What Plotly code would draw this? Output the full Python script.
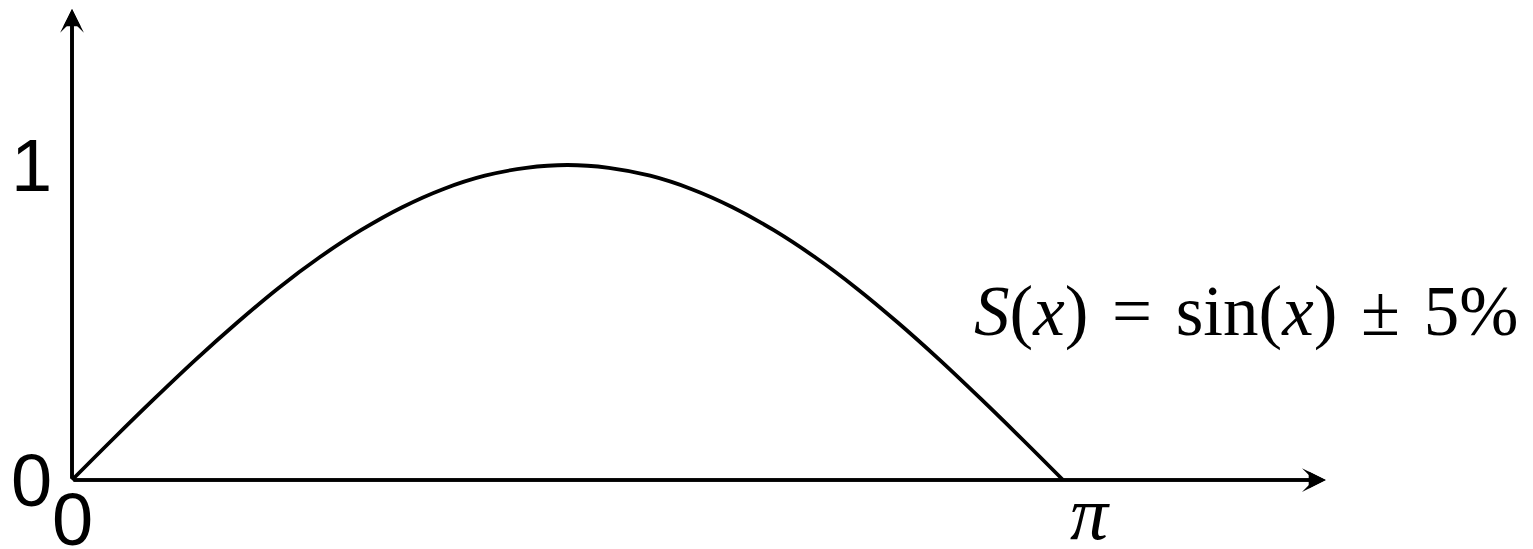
import plotly.graph_objects as go

# Samples of the plotted curve S(x), x in radians
x_vals = [0.000, 0.131, 0.262, 0.393, 0.524, 0.654, 0.785, 0.916, 1.047, 1.178,
          1.309, 1.440, 1.571, 1.702, 1.833, 1.963, 2.094, 2.225, 2.356, 2.487,
          2.618, 2.749, 2.880, 3.011, 3.142]
y_vals = [0.000, 0.131, 0.259, 0.383, 0.500, 0.609, 0.707, 0.793, 0.866, 0.924,
          0.966, 0.991, 1.000, 0.991, 0.966, 0.924, 0.866, 0.793, 0.707, 0.609,
          0.500, 0.383, 0.259, 0.131, 0.000]

# Axis labels
y_tick_labels = ["0", "1"]
x_tick_labels = ["0", "π"]
sp = "\u2004"  # three-per-em space, gives math-like spacing around operators
formula = f"<i>S</i>(<i>x</i>){sp}={sp}sin(<i>x</i>){sp}±{sp}5%"

W, H = 1533, 549
x_range = [-0.2283, 4.632]
y_range = [-0.219, 1.5238]

fig = go.Figure()
fig.add_trace(go.Scatter(x=x_vals, y=y_vals, mode="lines",
                         line=dict(color="black", width=3.8, shape="spline"),
                         hoverinfo="skip"))

# Axes: a barbed head with a smaller solid head laid over it, so the notch
# at the back of the arrowhead stays shallow
axis_w = 3.6
barbed = dict(showarrow=True, arrowhead=3, arrowsize=1.1, arrowwidth=axis_w,
              arrowcolor="black", axref="x", ayref="y", xref="x", yref="y", text="")
solid = dict(barbed, arrowhead=2, arrowsize=0.95)
x_tip, y_tip = 3.975, 1.495
for style in (barbed, solid):
    fig.add_annotation(x=x_tip, y=0, ax=0, ay=0, **style)
    fig.add_annotation(x=0, y=y_tip, ax=0, ay=0, **style)

sans = dict(family="Liberation Sans, Arial, sans-serif", size=74, color="black")
serif_pi = dict(family="Liberation Serif, DejaVu Serif, serif", size=76, color="black")
serif_eq = dict(family="Liberation Serif, DejaVu Serif, serif", size=71, color="black")

# y tick labels
fig.add_annotation(x=-0.13, y=0.0, text=y_tick_labels[0], showarrow=False,
                   font=sans, xanchor="center", yanchor="middle")
fig.add_annotation(x=-0.13, y=1.0, text=y_tick_labels[1], showarrow=False,
                   font=sans, xanchor="center", yanchor="middle")
# x tick labels
fig.add_annotation(x=0.0, y=-0.126, text=x_tick_labels[0], showarrow=False,
                   font=sans, xanchor="center", yanchor="middle")
fig.add_annotation(x=3.228, y=-0.105, text="<i>" + x_tick_labels[1] + "</i>",
                   showarrow=False, font=serif_pi, xanchor="center", yanchor="middle")

# Curve label
fig.add_annotation(x=3.722, y=0.536, text=formula, showarrow=False,
                   font=serif_eq, xanchor="center", yanchor="middle")

fig.update_xaxes(range=x_range, visible=False, fixedrange=True)
fig.update_yaxes(range=y_range, visible=False, fixedrange=True)
fig.update_layout(width=W, height=H, margin=dict(l=0, r=0, t=0, b=0),
                  paper_bgcolor="white", plot_bgcolor="white", showlegend=False)

fig.write_html("out.html", config={"displayModeBar": False})
